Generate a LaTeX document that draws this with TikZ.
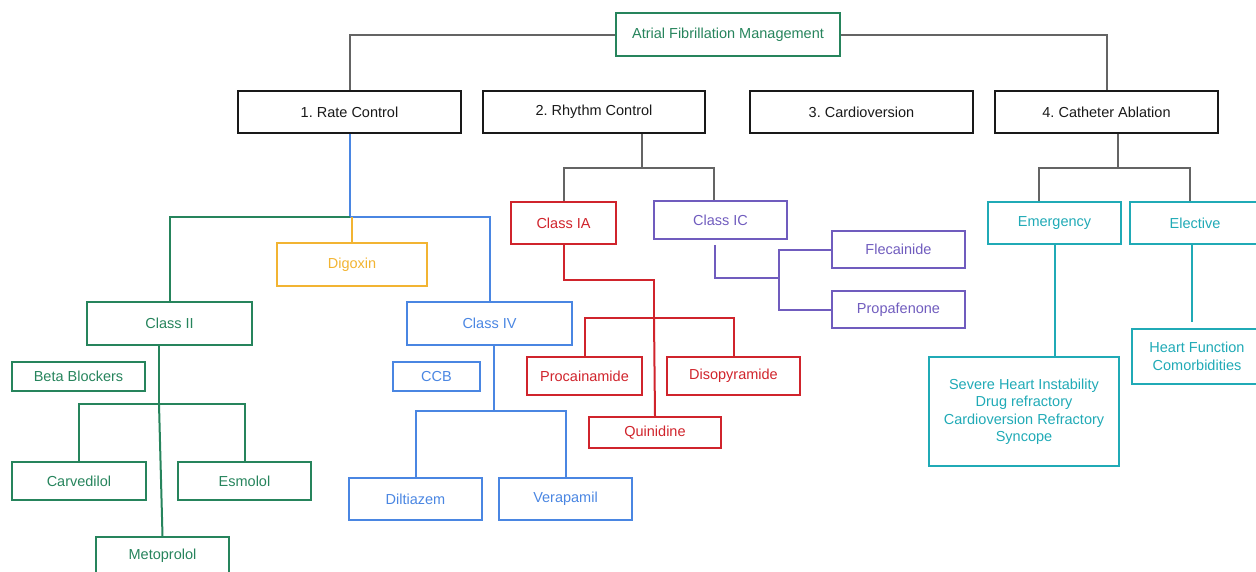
\documentclass[tikz,border=0pt]{standalone}
\usepackage{fontspec}
\setmainfont{Liberation Sans}
\definecolor{cgreen}{RGB}{38,132,92}
\definecolor{cyellow}{RGB}{242,180,50}
\definecolor{cblue}{RGB}{74,134,226}
\definecolor{cred}{RGB}{208,36,44}
\definecolor{cpurple}{RGB}{112,92,190}
\definecolor{cteal}{RGB}{32,170,182}
\definecolor{cgray}{RGB}{100,100,100}
\definecolor{cblack}{RGB}{25,25,25}
\frenchspacing
\begin{document}
\begin{tikzpicture}[x=1pt,y=-1pt,
  box/.style={draw=#1, text=#1, line width=1.8pt, inner sep=0pt, align=center,
    font=\fontsize{14.5}{17.5}\selectfont},
  conn/.style={draw=#1, line width=2pt}]
\useasboundingbox (0,0) rectangle (1256,571);
% nodes
\node[box=cgreen, minimum width=224, minimum height=43] (title) at (728,34.5) {Atrial Fibrillation Management};
\node[box=cblack, minimum width=223, minimum height=42] (rate) at (349.5,112) {1. Rate Control};
\node[box=cblack, minimum width=222, minimum height=42] (rhythm) at (594,112) {2. Rhythm Control};
\node[box=cblack, minimum width=223, minimum height=42] (cardio) at (861.5,112) {3. Cardioversion};
\node[box=cblack, minimum width=223, minimum height=42] (cath) at (1106.5,112) {4. Catheter Ablation};
\node[box=cyellow, minimum width=150, minimum height=43] (digoxin) at (352,264.5) {Digoxin};
\node[box=cgreen, minimum width=165, minimum height=43] (classII) at (169.5,323.5) {Class II};
\node[box=cgreen, minimum width=133, minimum height=29] (beta) at (78.5,376.5) {Beta Blockers};
\node[box=cgreen, minimum width=134, minimum height=38] (carv) at (79,481) {Carvedilol};
\node[box=cgreen, minimum width=133, minimum height=38] (esmolol) at (244.5,481) {Esmolol};
\node[box=cgreen, minimum width=133, minimum height=38] (metop) at (162.5,556) {Metoprolol};
\node[box=cblue, minimum width=165, minimum height=43] (classIV) at (489.5,323.5) {Class IV};
\node[box=cblue, minimum width=87, minimum height=29] (ccb) at (436.5,376.5) {CCB};
\node[box=cblue, minimum width=133, minimum height=42] (dilt) at (415.5,499) {Diltiazem};
\node[box=cblue, minimum width=133, minimum height=42] (vera) at (565.5,499) {Verapamil};
\node[box=cred, minimum width=105, minimum height=42] (classIA) at (563.5,223) {Class IA};
\node[box=cpurple, minimum width=133, minimum height=38] (classIC) at (720.5,220) {Class IC};
\node[box=cred, minimum width=115, minimum height=38] (proc) at (584.5,376) {Procainamide};
\node[box=cred, minimum width=133, minimum height=38] (diso) at (733.5,376) {Disopyramide};
\node[box=cred, minimum width=132, minimum height=31] (quin) at (655,432.5) {Quinidine};
\node[box=cpurple, minimum width=133, minimum height=37] (flec) at (898.5,249.5) {Flecainide};
\node[box=cpurple, minimum width=133, minimum height=37] (prop) at (898.5,309.5) {Propafenone};
\node[box=cteal, minimum width=133, minimum height=42] (emerg) at (1054.5,223) {Emergency};
\node[box=cteal, minimum width=130, minimum height=42] (elect) at (1195,223) {Elective};
\node[box=cteal, minimum width=190, minimum height=109] (severe) at (1024,411.5) {Severe Heart Instability\\Drug refractory\\Cardioversion Refractory\\Syncope};
\node[box=cteal, minimum width=130, minimum height=55] (heart) at (1197,356.5) {Heart Function\\Comorbidities};
% junction coordinates
\coordinate (rj) at (349.5,217);
\coordinate (c2j) at (159,404);
\coordinate (c4j) at (494,411);
\coordinate (rhj) at (642,168);
\coordinate (iab) at (654,280);
\coordinate (iaj) at (654,318);
\coordinate (icj) at (779,278);
\coordinate (cj) at (1118,168);
% top connectors
\draw[conn=cgray] (title.west) -| (rate.north);
\draw[conn=cgray] (title.east) -| (cath.north);
% rate control
\draw[conn=cblue] (rate.south) -- (rj);
\draw[conn=cgreen] (rj) -| (classII.north);
\draw[conn=cblue] (rj) -| (classIV.north);
\draw[conn=cyellow] (digoxin.north |- rj) -- (digoxin.north);
\draw[conn=cgreen] ([xshift=-10.5pt]classII.south) -- (c2j);
\draw[conn=cgreen] (c2j) -| (carv.north);
\draw[conn=cgreen] (c2j) -| (esmolol.north);
\draw[conn=cgreen] (c2j) -- (metop.north);
\draw[conn=cblue] ([xshift=4.5pt]classIV.south) -- (c4j);
\draw[conn=cblue] (c4j) -| (dilt.north);
\draw[conn=cblue] (c4j) -| (vera.north);
% rhythm control
\draw[conn=cgray] ([xshift=48pt]rhythm.south) -- (rhj);
\draw[conn=cgray] (rhj) -| (classIA.north);
\draw[conn=cgray] (rhj) -| ([xshift=-6.5pt]classIC.north);
\draw[conn=cred] (classIA.south) |- (iab) -- (iaj);
\draw[conn=cred] (iaj) -| (proc.north);
\draw[conn=cred] (iaj) -| (diso.north);
\draw[conn=cred] (iaj) -- (quin.north);
\draw[conn=cpurple] ([xshift=-5.5pt,yshift=-5pt]classIC.south) |- (icj);
\draw[conn=cpurple] (flec.west) -| (icj);
\draw[conn=cpurple] (prop.west) -| (icj);
% catheter ablation
\draw[conn=cgray] ([xshift=11.5pt]cath.south) -- (cj);
\draw[conn=cgray] (cj) -| ([xshift=-15.5pt]emerg.north);
\draw[conn=cgray] (cj) -| ([xshift=-5pt]elect.north);
\draw[conn=cteal] (emerg.south) -- (emerg.south |- severe.north);
\draw[conn=cteal] ([xshift=-3pt]elect.south) -- ([xshift=-3pt,yshift=6pt]elect.south |- heart.north);
\end{tikzpicture}
\end{document}
